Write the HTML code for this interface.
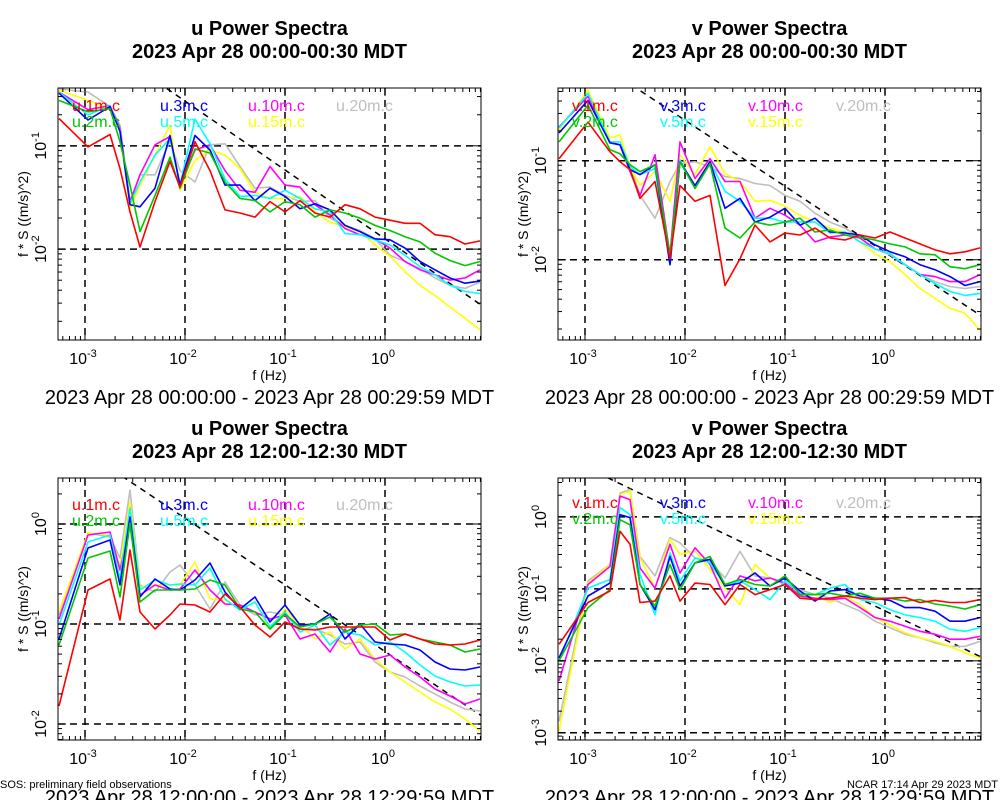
<!DOCTYPE html>
<html><head><meta charset="utf-8"><title>Power Spectra</title>
<style>
html,body{margin:0;padding:0;background:#fff;}
svg{display:block;font-family:"Liberation Sans",sans-serif;}
</style></head>
<body>
<svg id="chart" width="1000" height="800" viewBox="0 0 1000 800" xmlns="http://www.w3.org/2000/svg">
<rect width="1000" height="800" fill="#fff"/>
<text x="0" y="788" font-size="11">SOS: preliminary field observations</text>
<text x="998" y="788" font-size="11" text-anchor="end">NCAR 17:14 Apr 29 2023 MDT</text>
</svg>
<script>
// shared frequency grid, log10(Hz)
const logFreq = [-3.26,-2.97,-2.75,-2.65,-2.55,-2.45,-2.3,-2.15,-2.05,-1.9,-1.75,-1.6,-1.45,-1.3,-1.15,-1.0,-0.85,-0.7,-0.55,-0.4,-0.25,-0.1,0.05,0.2,0.35,0.5,0.65,0.8,0.95];
const seriesNames = ["1m","2m","3m","5m","10m","15m","20m"];
const xTickExps = [-3,-2,-1,0];

// Panel 1: u, 00:00-00:30 (log10 f*S)
const p1_1m = [-0.735,-1.01,-0.89,-1.22,-1.64,-1.98,-1.54,-1.15,-1.40,-0.96,-1.24,-1.62,-1.65,-1.69,-1.54,-1.64,-1.53,-1.65,-1.69,-1.57,-1.61,-1.69,-1.72,-1.75,-1.75,-1.86,-1.88,-1.95,-1.92];
const p1_2m = [-0.56,-0.67,-0.64,-0.96,-1.38,-1.83,-1.48,-1.11,-1.41,-1.03,-1.07,-1.35,-1.51,-1.53,-1.64,-1.54,-1.57,-1.69,-1.62,-1.65,-1.70,-1.77,-1.82,-1.88,-1.93,-2.04,-2.11,-2.16,-2.12];
const p1_3m = [-0.49,-0.75,-0.62,-0.86,-1.57,-1.59,-1.41,-0.90,-1.38,-0.90,-1.04,-1.38,-1.38,-1.53,-1.41,-1.49,-1.61,-1.56,-1.62,-1.77,-1.83,-1.90,-1.91,-1.99,-2.12,-2.20,-2.28,-2.33,-2.31];
const p1_5m = [-0.48,-0.70,-0.61,-0.85,-1.56,-1.35,-1.09,-0.93,-1.38,-0.74,-0.98,-1.32,-1.49,-1.48,-1.51,-1.43,-1.51,-1.61,-1.64,-1.85,-1.86,-1.91,-1.96,-2.06,-2.17,-2.25,-2.35,-2.41,-2.43];
const p1_10m = [-0.48,-0.65,-0.61,-0.83,-1.54,-1.28,-0.99,-0.91,-1.38,-1.04,-0.99,-1.24,-1.43,-1.45,-1.20,-1.38,-1.40,-1.57,-1.67,-1.80,-1.86,-1.90,-1.99,-2.12,-2.20,-2.25,-2.30,-2.28,-2.20];
const p1_15m = [-0.46,-0.56,-0.64,-0.86,-1.61,-1.38,-1.09,-0.80,-1.43,-1.14,-1.04,-1.09,-1.22,-1.45,-1.51,-1.51,-1.49,-1.64,-1.74,-1.78,-1.83,-1.96,-2.07,-2.22,-2.35,-2.45,-2.56,-2.67,-2.78];
const p1_20m = [-0.45,-0.48,-0.62,-0.80,-1.56,-1.28,-1.28,-0.95,-1.24,-1.35,-0.99,-0.98,-1.20,-1.41,-1.40,-1.48,-1.54,-1.53,-1.70,-1.77,-1.82,-1.90,-2.06,-2.12,-2.19,-2.28,-2.35,-2.38,-2.32];

// Panel 2: v, 00:00-00:30
const p2_1m = [-0.98,-0.61,-0.91,-1.01,-1.09,-1.38,-1.21,-1.99,-1.25,-1.41,-1.35,-2.26,-1.99,-1.65,-1.82,-1.73,-1.75,-1.68,-1.78,-1.80,-1.75,-1.78,-1.72,-1.78,-1.84,-1.90,-1.94,-1.92,-1.88];
const p2_2m = [-0.81,-0.44,-0.89,-0.93,-1.04,-1.11,-1.04,-1.95,-1.01,-1.28,-1.03,-1.68,-1.78,-1.62,-1.65,-1.62,-1.58,-1.72,-1.70,-1.75,-1.77,-1.80,-1.84,-1.87,-1.94,-1.95,-2.07,-2.09,-2.05];
const p2_3m = [-0.72,-0.39,-0.82,-0.84,-1.09,-1.14,-1.04,-2.05,-1.01,-1.25,-1.01,-1.48,-1.38,-1.62,-1.57,-1.48,-1.65,-1.58,-1.72,-1.73,-1.75,-1.85,-1.92,-1.97,-2.05,-2.10,-2.17,-2.26,-2.22];
const p2_5m = [-0.67,-0.32,-0.81,-0.81,-1.06,-1.14,-1.08,-2.05,-0.99,-1.28,-1.01,-1.31,-1.41,-1.58,-1.58,-1.62,-1.62,-1.62,-1.73,-1.72,-1.82,-1.89,-1.94,-2.05,-2.15,-2.24,-2.32,-2.36,-2.34];
const p2_10m = [-0.66,-0.35,-0.81,-0.84,-1.11,-1.35,-0.94,-1.95,-0.81,-1.18,-0.98,-1.21,-1.21,-1.58,-1.48,-1.55,-1.65,-1.82,-1.77,-1.75,-1.78,-1.89,-1.94,-2.05,-2.15,-2.17,-2.22,-2.22,-2.15];
const p2_15m = [-0.69,-0.29,-0.77,-0.74,-1.06,-1.25,-1.11,-1.41,-0.94,-1.14,-0.86,-1.13,-1.21,-1.41,-1.40,-1.46,-1.55,-1.62,-1.68,-1.72,-1.82,-1.94,-2.02,-2.15,-2.29,-2.39,-2.49,-2.54,-2.71];
const p2_20m = [-0.67,-0.32,-0.82,-0.84,-1.04,-1.35,-1.58,-1.21,-1.03,-1.01,-1.06,-1.16,-1.18,-1.23,-1.25,-1.35,-1.41,-1.53,-1.62,-1.68,-1.78,-1.89,-1.95,-2.05,-2.15,-2.22,-2.27,-2.29,-2.27];

// Panel 3: u, 12:00-12:30
const p3_1m = [-1.82,-0.66,-0.55,-0.96,-0.26,-0.88,-1.05,-0.91,-0.80,-0.81,-0.88,-0.70,-0.83,-1.01,-1.13,-0.98,-1.05,-1.06,-1.03,-1.03,-1.03,-1.03,-1.16,-1.10,-1.15,-1.20,-1.21,-1.20,-1.16];
const p3_2m = [-1.21,-0.34,-0.27,-0.73,0.01,-0.78,-0.66,-0.66,-0.66,-0.65,-0.56,-0.61,-0.85,-0.88,-1.05,-0.90,-1.03,-1.00,-0.93,-1.08,-1.01,-1.00,-1.11,-1.10,-1.15,-1.18,-1.21,-1.28,-1.25];
const p3_3m = [-1.15,-0.24,-0.16,-0.61,0.07,-0.73,-0.55,-0.65,-0.66,-0.56,-0.39,-0.68,-0.85,-0.73,-0.98,-0.81,-1.01,-1.00,-0.90,-1.15,-1.00,-1.18,-1.20,-1.21,-1.26,-1.38,-1.45,-1.46,-1.43];
const p3_5m = [-1.01,-0.18,-0.11,-0.55,0.16,-0.66,-0.56,-0.61,-0.60,-0.61,-0.44,-0.75,-0.86,-0.78,-1.03,-0.88,-1.08,-1.01,-1.21,-1.08,-1.11,-1.21,-1.18,-1.28,-1.41,-1.52,-1.58,-1.62,-1.61];
const p3_10m = [-0.95,-0.11,-0.08,-0.46,-0.01,-0.71,-0.61,-0.66,-0.65,-0.46,-0.66,-0.80,-0.81,-0.88,-0.95,-0.91,-1.15,-1.10,-1.28,-1.05,-1.30,-1.35,-1.31,-1.43,-1.53,-1.65,-1.72,-1.80,-1.75];
const p3_15m = [-0.88,-0.09,-0.11,-0.43,0.22,-0.63,-0.61,-0.61,-0.61,-0.38,-0.75,-0.76,-0.85,-0.78,-1.05,-0.85,-1.01,-1.15,-1.08,-1.25,-1.15,-1.35,-1.48,-1.58,-1.68,-1.78,-1.85,-1.95,-2.07];
const p3_20m = [-0.91,-0.09,-0.13,-0.34,0.34,-0.61,-0.68,-0.48,-0.41,-0.61,-0.85,-0.58,-0.81,-0.91,-0.88,-0.91,-1.05,-1.05,-1.11,-1.20,-1.18,-1.38,-1.48,-1.53,-1.62,-1.70,-1.78,-1.85,-1.87];

// Panel 4: v, 12:00-12:30
const p4_1m = [-1.77,-1.19,-1.03,-0.20,-0.38,-1.19,-1.17,-0.82,-1.17,-0.92,-0.94,-1.22,-0.94,-1.08,-1.01,-0.94,-1.13,-1.15,-1.13,-1.10,-1.13,-1.15,-1.13,-1.12,-1.19,-1.16,-1.19,-1.19,-1.15];
const p4_2m = [-2.00,-1.26,-1.01,-0.04,-0.11,-0.94,-1.24,-0.66,-1.01,-0.64,-0.55,-0.94,-0.87,-0.94,-0.96,-0.82,-1.08,-1.08,-1.06,-1.10,-1.06,-1.13,-1.13,-1.17,-1.15,-1.21,-1.24,-1.28,-1.22];
const p4_3m = [-1.96,-1.10,-0.92,0.03,-0.01,-0.94,-1.29,-0.55,-0.96,-0.64,-0.59,-0.96,-0.92,-0.78,-0.96,-0.85,-1.03,-1.17,-1.03,-1.01,-1.10,-1.13,-1.16,-1.26,-1.26,-1.31,-1.45,-1.45,-1.40];
const p4_5m = [-2.00,-0.99,-0.87,0.13,0.03,-0.80,-1.36,-0.50,-0.89,-0.57,-0.64,-0.96,-0.89,-1.01,-1.15,-0.89,-1.06,-1.08,-0.99,-0.94,-1.15,-1.19,-1.29,-1.36,-1.40,-1.45,-1.56,-1.59,-1.54];
const p4_10m = [-2.28,-0.94,-0.69,0.29,0.24,-0.71,-0.99,-0.38,-0.78,-0.43,-0.66,-1.13,-0.82,-0.89,-0.85,-0.92,-1.10,-1.13,-1.15,-1.13,-1.26,-1.40,-1.45,-1.52,-1.59,-1.63,-1.70,-1.70,-1.66];
const p4_15m = [-2.98,-0.92,-0.66,0.31,0.36,-0.57,-0.99,-0.31,-0.52,-0.48,-0.73,-0.99,-1.22,-0.66,-0.85,-0.92,-1.13,-1.08,-1.19,-1.10,-1.22,-1.40,-1.50,-1.61,-1.68,-1.73,-1.80,-1.89,-1.96];
const p4_20m = [-2.84,-0.89,-0.66,0.33,0.38,-0.55,-0.82,-0.29,-0.36,-0.57,-0.62,-0.85,-0.48,-0.82,-0.85,-0.94,-1.01,-1.08,-1.13,-1.22,-1.31,-1.45,-1.54,-1.63,-1.68,-1.75,-1.80,-1.80,-1.73];

const colors = ["#ff0000","#00c800","#0000ff","#00ffff","#ff00ff","#ffff00","#bebebe"];
const drawOrder = [6,5,4,3,2,1,0];
const legendCols = [[0,1],[2,3],[4,5],[6]];

const panels = [
  {id:"u-morning", comp:"u", title2:"2023 Apr 28 00:00-00:30 MDT", range:"2023 Apr 28 00:00:00 - 2023 Apr 28 00:29:59 MDT",
   x0:58,x1:481,y0:88,y1:340,yTop:-0.44,yBot:-2.88,yExps:[-1,-2],refA:-1.90,legY:[105,121],
   series:[p1_1m,p1_2m,p1_3m,p1_5m,p1_10m,p1_15m,p1_20m]},
  {id:"v-morning", comp:"v", title2:"2023 Apr 28 00:00-00:30 MDT", range:"2023 Apr 28 00:00:00 - 2023 Apr 28 00:29:59 MDT",
   x0:558,x1:981,y0:88,y1:340,yTop:-0.266,yBot:-2.81,yExps:[-1,-2],refA:-1.925,legY:[105,121],
   series:[p2_1m,p2_2m,p2_3m,p2_5m,p2_10m,p2_15m,p2_20m]},
  {id:"u-noon", comp:"u", title2:"2023 Apr 28 12:00-12:30 MDT", range:"2023 Apr 28 12:00:00 - 2023 Apr 28 12:29:59 MDT",
   x0:58,x1:481,y0:478,y1:740,yTop:0.46,yBot:-2.16,yExps:[0,-1,-2],refA:-1.275,legY:[504,520],
   series:[p3_1m,p3_2m,p3_3m,p3_5m,p3_10m,p3_15m,p3_20m]},
  {id:"v-noon", comp:"v", title2:"2023 Apr 28 12:00-12:30 MDT", range:"2023 Apr 28 12:00:00 - 2023 Apr 28 12:29:59 MDT",
   x0:558,x1:981,y0:478,y1:740,yTop:0.54,yBot:-3.10,yExps:[0,-1,-2,-3],refA:-1.306,legY:[502,518],
   series:[p4_1m,p4_2m,p4_3m,p4_5m,p4_10m,p4_15m,p4_20m]}
];

const NS = "http://www.w3.org/2000/svg";
const svg = document.getElementById("chart");
function mk(tag, attrs, parent){
  const e = document.createElementNS(NS, tag);
  for (const k in attrs) e.setAttribute(k, attrs[k]);
  (parent||svg).appendChild(e);
  return e;
}

panels.forEach((p, pi) => {
  const g = mk("g", {});
  
  
  const xOrigin = p.x0 + 27; // pixel of 10^-3
  const xs = lf => xOrigin + 100 * (lf + 3);
  const xLeft = -3 - 27/100, xRight = -3 + (p.x1 - xOrigin)/100;
  const ys = ly => p.y0 + (p.yTop - ly) / (p.yTop - p.yBot) * (p.y1 - p.y0);
  const cx = (p.x0 + p.x1) / 2;
  const top = p.y0 < 200;

  const clipId = "clip" + pi;
  const cp = mk("clipPath", {id: clipId}, g);
  mk("rect", {x:p.x0, y:p.y0, width:p.x1-p.x0, height:p.y1-p.y0}, cp);

  // titles
  const t1 = mk("text", {x:cx, y:top ? 35 : 435, "font-size":20, "font-weight":"bold", "text-anchor":"middle"}, g);
  t1.textContent = p.comp + " Power Spectra";
  
  
  const t2 = mk("text", {x:cx, y:top ? 58 : 458, "font-size":20, "font-weight":"bold", "text-anchor":"middle"}, g);
  t2.textContent = p.title2;
  
  

  // grid
  const grid = mk("g", {stroke:"#000", "stroke-width":1.5, "stroke-dasharray":"7,5", "clip-path":"url(#"+clipId+")"}, g);
  
  
  xTickExps.forEach(e => mk("line", {x1:xs(e), x2:xs(e), y1:p.y0, y2:p.y1}, grid));
  p.yExps.forEach(e => mk("line", {x1:p.x0, x2:p.x1, y1:ys(e), y2:ys(e)}, grid));

  // reference -2/3 line
  const ref = mk("line", {x1:xs(xLeft), y1:ys(p.refA - 2/3*xLeft), x2:xs(xRight), y2:ys(p.refA - 2/3*xRight),
    stroke:"#000", "stroke-width":1.5, "stroke-dasharray":"6,5", "clip-path":"url(#"+clipId+")"}, g);
  
  

  // series
  drawOrder.forEach(si => {
    const vals = p.series[si];
    const pts = vals.map((v, i) => xs(logFreq[i]).toFixed(1) + "," + ys(v).toFixed(1)).join(" ");
    const pl = mk("polyline", {points:pts, fill:"none", stroke:colors[si], "stroke-width":1.6, "stroke-linejoin":"round", "clip-path":"url(#"+clipId+")"}, g);
    
    
  });

  // legend
  legendCols.forEach((col, ci) => {
    col.forEach((si, ri) => {
      const lt = mk("text", {x:p.x0 + 14 + ci*88, y:p.legY[ri]+6, "font-size":16, fill:colors[si]}, g);
      lt.textContent = p.comp + "." + seriesNames[si] + ".c";
      
      
    });
  });

  // box and ticks
  const box = mk("rect", {x:p.x0, y:p.y0, width:p.x1-p.x0, height:p.y1-p.y0, fill:"none", stroke:"#000", "stroke-width":1}, g);
  
  
  const ticks = mk("g", {stroke:"#000", "stroke-width":1}, g);
  
  
  for (let d = -4; d <= 1; d++) {
    for (let m = 1; m <= 9; m++) {
      const lf = d + Math.log10(m);
      if (lf < xLeft || lf > xRight) continue;
      const L = m === 1 ? 8 : 4, X = xs(lf);
      mk("line", {x1:X, x2:X, y1:p.y1, y2:p.y1-L}, ticks);
      mk("line", {x1:X, x2:X, y1:p.y0, y2:p.y0+L}, ticks);
    }
  }
  for (let d = -4; d <= 1; d++) {
    for (let m = 1; m <= 9; m++) {
      const ly = d + Math.log10(m);
      if (ly < p.yBot || ly > p.yTop) continue;
      const L = m === 1 ? 8 : 4, Y = ys(ly);
      mk("line", {x1:p.x0, x2:p.x0+L, y1:Y, y2:Y}, ticks);
      mk("line", {x1:p.x1, x2:p.x1-L, y1:Y, y2:Y}, ticks);
    }
  }

  // x tick labels
  xTickExps.forEach(e => {
    const t = mk("text", {x:xs(e)-2, y:p.y1+24, "font-size":16, "text-anchor":"middle"}, g);
    
    
    const a = mk("tspan", {}, t); a.textContent = "10";
    const b = mk("tspan", {"font-size":11, dy:-7}, t); b.textContent = String(e);
  });
  // y tick labels (rotated)
  p.yExps.forEach(e => {
    const Y = ys(e), X = p.x0 - 12;
    const t = mk("text", {x:X, y:Y, "font-size":16, "text-anchor":"middle", transform:"rotate(-90 "+X+" "+Y+")"}, g);
    
    
    const a = mk("tspan", {}, t); a.textContent = "10";
    const b = mk("tspan", {"font-size":11, dy:-7}, t); b.textContent = String(e);
  });

  // axis titles
  const xt = mk("text", {x:cx, y:p.y1+40, "font-size":14, "text-anchor":"middle"}, g);
  xt.textContent = "f (Hz)";
  
  
  const ymid = (p.y0 + p.y1)/2, yx = p.x0 - 30;
  const yt = mk("text", {x:yx, y:ymid, "font-size":14, "text-anchor":"middle", transform:"rotate(-90 "+yx+" "+ymid+")"}, g);
  yt.textContent = "f * S ((m/s)^2)";
  
  
  const rt = mk("text", {x:cx, y:p.y1+64, "font-size":20, "text-anchor":"middle"}, g);
  rt.textContent = p.range;
  
  
});
</script>
</body></html>
